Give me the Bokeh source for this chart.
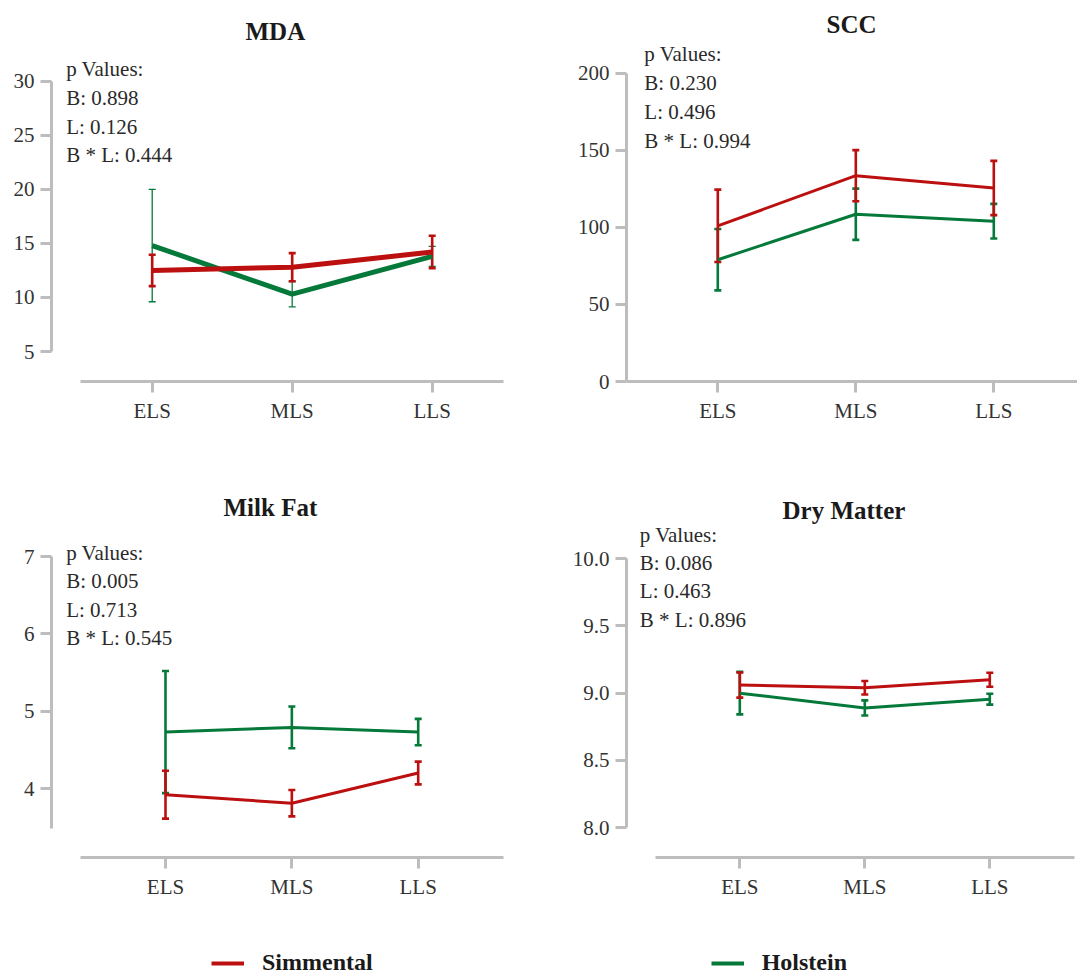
from bokeh.plotting import figure
from bokeh.models import (Range1d, FixedTicker, Whisker, TeeHead, ColumnDataSource,
                          Label, Legend, LegendItem, NumeralTickFormatter)
from bokeh.layouts import column, row
from bokeh.embed import file_html
from bokeh.resources import INLINE

# ---------------- data ----------------
stages = ["ELS", "MLS", "LLS"]
series_names = ["Simmental", "Holstein"]

mda_sim = [12.5, 12.8, 14.2]
mda_sim_se = [1.45, 1.3, 1.5]
mda_hol = [14.8, 10.3, 13.8]
mda_hol_se = [5.2, 1.17, 0.93]
mda_p = ["0.898", "0.126", "0.444"]

scc_sim = [101.0, 133.5, 125.5]
scc_sim_se = [23.5, 16.6, 17.6]
scc_hol = [79.0, 108.5, 104.0]
scc_hol_se = [19.9, 16.6, 11.2]
scc_p = ["0.230", "0.496", "0.994"]

fat_sim = [3.92, 3.81, 4.20]
fat_sim_se = [0.31, 0.17, 0.147]
fat_hol = [4.73, 4.79, 4.73]
fat_hol_se = [0.79, 0.27, 0.17]
fat_p = ["0.005", "0.713", "0.545"]

dm_sim = [9.06, 9.04, 9.10]
dm_sim_se = [0.093, 0.05, 0.052]
dm_hol = [9.00, 8.89, 8.955]
dm_hol_se = [0.158, 0.056, 0.04]
dm_p = ["0.086", "0.463", "0.896"]

mda_ticks = [5, 10, 15, 20, 25, 30]
scc_ticks = [0, 50, 100, 150, 200]
fat_ticks = [4, 5, 6, 7]
dm_ticks = [8.0, 8.5, 9.0, 9.5, 10.0]

# ---------------- style ----------------
RED = "#BC1010"
GREEN = "#05793A"
AXIS = "#BDBDBD"
FONT = "Liberation Serif"
TXT = "#2a2a2a"


def lin(a, b):
    (p1, v1), (p2, v2) = a, b
    return lambda px: v1 + (px - p1) * (v2 - v1) / (p2 - p1)


def panel(title, sim, sim_se, hol, hol_se, pvals, yticks, ybounds, fmt, geo):
    fx, fy, w, h = geo["fig"]
    l, t, r, b = geo["frame"]
    y_of = lin(*geo["ycal"])
    x_of = lin(*geo["xcal"])
    p = figure(width=w, height=h, title=title, toolbar_location=None,
               output_backend="svg",
               x_range=Range1d(x_of(l), x_of(r)),
               y_range=Range1d(y_of(b), y_of(t)),
               min_border_left=l - fx, min_border_right=fx + w - r,
               min_border_top=t - fy, min_border_bottom=fy + h - b)
    p.outline_line_color = None
    p.grid.visible = False
    p.background_fill_color = "white"
    p.title.align = "left"
    p.title.offset = geo["title_left"] - l
    p.title.text_font = FONT
    p.title.text_font_size = "25px"
    p.title.text_font_style = "bold"
    p.title.text_color = "#1a1a1a"
    p.title.standoff = geo["standoff"]

    for ax in (p.xaxis[0], p.yaxis[0]):
        ax.axis_line_color = AXIS
        ax.axis_line_width = 3
        ax.major_tick_line_color = AXIS
        ax.major_tick_line_width = 3
        ax.major_tick_in = 0
        ax.major_tick_out = 11
        ax.minor_tick_line_color = None
        ax.major_label_text_font = FONT
        ax.major_label_text_font_size = "21px"
        ax.major_label_text_color = "#333333"
        ax.major_label_standoff = 6

    xs = list(range(len(stages)))
    p.xaxis.ticker = FixedTicker(ticks=xs)
    p.xaxis.major_label_overrides = {i: s for i, s in enumerate(stages)}
    xa0, xa1 = geo["xaxis"]
    p.xaxis.bounds = (x_of(xa0), x_of(xa1))

    p.yaxis.ticker = FixedTicker(ticks=yticks)
    p.yaxis.bounds = ybounds
    if fmt:
        p.yaxis.formatter = NumeralTickFormatter(format=fmt)

    lw = geo.get("lw", 3)
    wl = geo.get("wl", (2.6, 2.6))
    for vals, col in ((hol, GREEN), (sim, RED)):
        src = ColumnDataSource(data=dict(x=xs, y=vals))
        p.line("x", "y", source=src, line_color=col, line_width=lw)
    for vals, se, col, wlw in ((hol, hol_se, GREEN, wl[1]), (sim, sim_se, RED, wl[0])):
        wsrc = ColumnDataSource(data=dict(
            x=xs,
            upper=[v + e for v, e in zip(vals, se)],
            lower=[v - e for v, e in zip(vals, se)]))
        wk = Whisker(base="x", upper="upper", lower="lower", source=wsrc,
                     line_color=col, line_width=wlw,
                     upper_head=TeeHead(size=7, line_color=col, line_width=wlw),
                     lower_head=TeeHead(size=7, line_color=col, line_width=wlw))
        p.add_layout(wk)

    lines = ["p Values:", "B: " + pvals[0], "L: " + pvals[1], "B * L: " + pvals[2]]
    for txt, base in zip(lines, geo["baselines"]):
        p.add_layout(Label(x=x_of(geo["text_x"]), y=y_of(base - 6.5), text=txt,
                           text_font=FONT, text_font_size="21px",
                           text_color=TXT, text_baseline="alphabetic"))
    return p


# frames inside one row share top / bottom edges (Bokeh aligns them)
p1 = panel("MDA", mda_sim, mda_sim_se, mda_hol, mda_hol_se, mda_p, mda_ticks, (5, 30), None,
           dict(fig=(0, 0, 548, 448), frame=(51, 44, 503, 381),
                ycal=((80.7, 30), (351, 5)), xcal=((151.7, 0), (431.7, 2)),
                xaxis=(80, 503), text_x=65.7, baselines=[75, 104, 132.7, 161.3],
                lw=5, wl=(2.6, 1.3), standoff=0, title_left=245))
p2 = panel("SCC", scc_sim, scc_sim_se, scc_hol, scc_hol_se, scc_p, scc_ticks, (0, 200), None,
           dict(fig=(548, 0, 529, 448), frame=(626, 44, 1077, 381),
                ycal=((72.7, 200), (381, 0)), xcal=((717.3, 0), (993.3, 2)),
                xaxis=(626, 1077), text_x=643.8, baselines=[60, 89.3, 118.3, 146.7],
                standoff=13, title_left=826))
p3 = panel("Milk Fat", fat_sim, fat_sim_se, fat_hol, fat_hol_se, fat_p, fat_ticks, (3.48, 7), None,
           dict(fig=(0, 448, 548, 470), frame=(51, 523, 503, 857),
                ycal=((556, 7), (788, 4)), xcal=((165, 0), (417.7, 2)),
                xaxis=(80, 503), text_x=65.7, baselines=[559, 587.3, 616, 644.3],
                standoff=6, title_left=223))
p4 = panel("Dry Matter", dm_sim, dm_sim_se, dm_hol, dm_hol_se, dm_p, dm_ticks, (8, 10), "0.0",
           dict(fig=(548, 448, 529, 470), frame=(626, 523, 1077, 857),
                ycal=((558, 10), (827.3, 8)), xcal=((739.3, 0), (989.3, 2)),
                xaxis=(655, 1074), text_x=639.3, baselines=[540.7, 569, 597.3, 625.7],
                standoff=0, title_left=782))

# ---------------- legend ----------------
pl = figure(width=1077, height=58, toolbar_location=None, output_backend="svg",
            x_range=Range1d(0, 1), y_range=Range1d(0, 1),
            x_axis_type=None, y_axis_type=None, min_border=0)
pl.outline_line_color = None
# zero-length proxy lines: only their legend glyphs are seen
r_sim = pl.line(x=[0, 0], y=[0, 0], line_color=RED, line_width=4)
r_hol = pl.line(x=[0, 0], y=[0, 0], line_color=GREEN, line_width=4)
leg = Legend(items=[LegendItem(label=series_names[0], renderers=[r_sim]),
                    LegendItem(label=series_names[1], renderers=[r_hol])],
             orientation="horizontal", location=(211, 0), spacing=338,
             glyph_width=33, label_standoff=18, padding=0, margin=0,
             label_text_font=FONT, label_text_font_size="24px",
             label_text_font_style="bold", label_text_color="#1a1a1a",
             border_line_color=None, background_fill_alpha=0)
pl.add_layout(leg)

layout = column(row(p1, p2), row(p3, p4), pl)
open("out.html", "w").write(file_html(layout, INLINE))
